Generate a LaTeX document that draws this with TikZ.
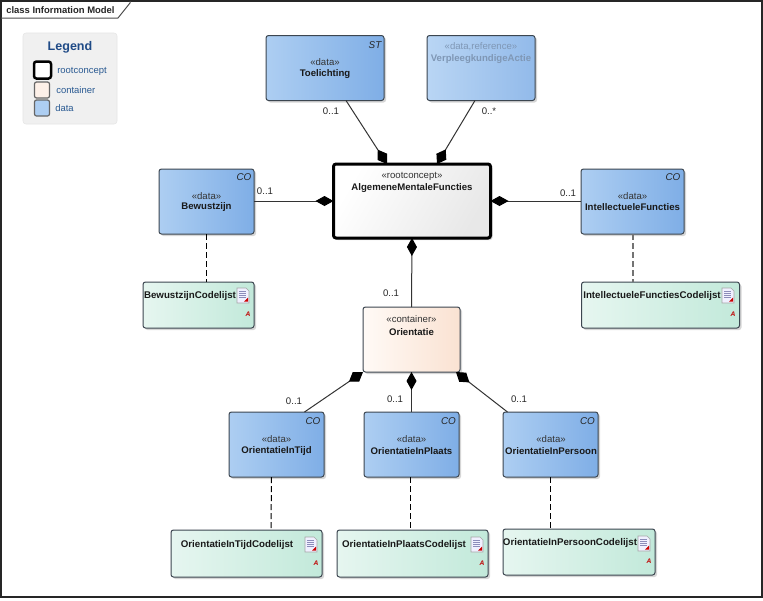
\documentclass[tikz,border=0pt]{standalone}
\usepackage{fontspec}
\setmainfont{Liberation Sans}
\usetikzlibrary{arrows.meta,shadows,calc}
\definecolor{dataL}{HTML}{ADCEF2}
\definecolor{dataR}{HTML}{7FAEE6}
\definecolor{contL}{HTML}{FFFAF6}
\definecolor{contR}{HTML}{FAE2D2}
\definecolor{codeL}{HTML}{E6F6F0}
\definecolor{codeR}{HTML}{C2E9DA}
\definecolor{edgeC}{HTML}{3C4650}
\definecolor{legendBlue}{HTML}{1F4A86}
\definecolor{legendTxt}{HTML}{2A5A92}
\definecolor{refTxt}{HTML}{7F97B5}
\def\px{0.75pt}
\tikzset{
  fnt/.style={font=\fontsize{7.2}{8}\selectfont},
  elem/.style={draw=edgeC,line width=1*\px,rounded corners=2.5*\px,inner sep=0pt,outer sep=0pt,
     drop shadow={shadow xshift=2*\px,shadow yshift=-2*\px,opacity=.16,fill=black}},
  sz/.style 2 args={minimum width=#1*\px,minimum height=#2*\px},
  datab/.style={elem,left color=dataL,right color=dataR},
  contb/.style={elem,left color=contL,right color=contR},
  codeb/.style={elem,left color=codeL,right color=codeR},
  rootb/.style={elem,draw=black,line width=3*\px,left color=white,right color=black!9,shading angle=60},
  stereo/.style={fnt,text=black!80,inner sep=0pt},
  ename/.style={font=\fontsize{7.2}{8}\selectfont\bfseries,text=black!90,inner sep=0pt},
  cname/.style={font=\fontsize{7.3}{8}\selectfont\bfseries,text=black!90,inner sep=0pt},
  corner/.style={font=\fontsize{7.4}{8}\selectfont\itshape,text=black!85,inner sep=0pt},
  mult/.style={fnt,text=black!85,inner sep=0pt},
  comp/.style={draw=black!80,line width=1*\px,-{Diamond[length=18*\px,width=10*\px,fill=black,color=black]}},
  compd/.style={draw=black!80,line width=1*\px,-{Diamond[length=17*\px,width=11.5*\px,fill=black,color=black]}},
  dep/.style={draw=black,line width=1*\px,dash pattern=on 6*\px off 3*\px},
  legtxt/.style={font=\fontsize{7.1}{8}\selectfont,text=legendTxt,inner sep=0pt,anchor=west},
  swatch/.style={draw=black!60,line width=1.2*\px,rounded corners=2*\px,inner sep=0pt,sz={15}{16}},
}
\newcommand{\docicon}[2]{%
  \fill[white,draw=black!35,line width=.6*\px,fill=blue!6] (#1,#2) -- ++(9,0) -- ++(3,3) -- ++(0,12) -- ++(-12,0) -- cycle;
  \foreach \dy in {3,5,7,9}{\draw[blue!40!black!45,line width=.7*\px] ($(#1,#2)+(2,\dy)$) -- ++(7,0);}
  \fill[red!80!black] ($(#1,#2)+(7,13.5)$) -- ++(4,-4) -- ++(0,4) -- cycle;
}
\newcommand{\redA}[2]{\node[font=\fontsize{5}{6}\selectfont\itshape\bfseries,text=red!75!black,inner sep=0pt] at (#1,#2) {A};}
\begin{document}
\begin{tikzpicture}[x=0.75pt,y=-0.75pt]
\useasboundingbox (0,0) rectangle (763,600);
\fill[white] (0,0) rectangle (763,600);
\draw[black!85,line width=1.2*\px] (1,1) rectangle (762,597);
% frame tab
\node[font=\fontsize{7.1}{8}\selectfont\bfseries,text=black!85,inner sep=0pt,anchor=west] (tab) at (6,10) {class Information Model};
\draw[black!70,line width=1*\px] (1,18) -- (118,18) -- (130,3) -- (130,1);
% legend
\node[draw=black!10,fill=black!6,rounded corners=3*\px,inner sep=0pt,sz={94}{91}] (legend) at (70,78.5) {};
\node[font=\fontsize{9.4}{10}\selectfont\bfseries,text=legendBlue,inner sep=0pt] (legt) at (70,47) {Legend};
\node[swatch,draw=black,line width=2.5*\px,fill=white,sz={17}{17},rounded corners=2.5*\px] (sw1) at (42.5,70) {};
\node[swatch,fill=contL!60!contR] (sw2) at (42,90) {};
\node[swatch,fill=dataL] (sw3) at (42,108) {};
\node[legtxt] (l1) at (57,71) {rootconcept};
\node[legtxt] (l2) at (56,90) {container};
\node[legtxt] (l3) at (55,108) {data};
% main elements
\node[datab,sz={118}{65}] (toel) at (325,68) {};
\node[datab,sz={108}{65},left color=dataL!85!white,right color=dataR!85!white] (verp) at (481,68) {};
\node[rootb,sz={157}{74}] (root) at (412,201) {};
\node[datab,sz={95}{65}] (bew) at (206.5,201.5) {};
\node[datab,sz={103}{65}] (intel) at (632.5,201.5) {};
\node[codeb,sz={111}{46}] (bewc) at (198.5,305) {};
\node[codeb,sz={158}{46}] (intelc) at (660.5,305) {};
\node[contb,sz={97}{65}] (ori) at (411.5,339.5) {};
\node[datab,sz={95}{65}] (tijd) at (276.5,444.5) {};
\node[datab,sz={95}{65}] (plaats) at (411.5,444.5) {};
\node[datab,sz={95}{65}] (pers) at (550.5,444.5) {};
\node[codeb,sz={151}{47}] (tijdc) at (246.5,553.5) {};
\node[codeb,sz={151}{47}] (plaatsc) at (412.5,553.5) {};
\node[codeb,sz={152}{46}] (persc) at (579,552) {};
% texts
\node[stereo] (s1) at (325,62) {«data»};\node[ename] (n1) at (325,74) {Toelichting};\node[corner] (c1) at (375,45) {ST};
\node[stereo,text=refTxt] (s2) at (481,47) {«data,reference»};\node[ename,text=refTxt] (n2) at (481,59.5) {VerpleegkundigeActie};
\node[stereo] (s3) at (412,176) {«rootconcept»};\node[ename] (n3) at (412,188) {AlgemeneMentaleFuncties};
\node[stereo] (s4) at (206.5,196) {«data»};\node[ename] (n4) at (206.5,207.5) {Bewustzijn};\node[corner] (c4) at (244,177.5) {CO};
\node[stereo] (s5) at (632.5,196) {«data»};\node[ename] (n5) at (632.5,207.5) {IntellectueleFuncties};\node[corner] (c5) at (673,177.5) {CO};
\node[stereo] (s6) at (411.5,319.5) {«container»};\node[ename] (n6) at (411.5,332) {Orientatie};
\node[stereo] (s7) at (276.5,439) {«data»};\node[ename] (n7) at (276.5,451) {OrientatieInTijd};\node[corner] (c7) at (313,421) {CO};
\node[stereo] (s8) at (411.5,439) {«data»};\node[ename] (n8) at (411.5,451) {OrientatieInPlaats};\node[corner] (c8) at (448.5,421) {CO};
\node[stereo] (s9) at (551,439) {«data»};\node[ename] (n9) at (551,451) {OrientatieInPersoon};\node[corner] (c9) at (587.5,421) {CO};
\node[cname] (n10) at (190,296) {BewustzijnCodelijst};
\node[cname] (n11) at (652,296) {IntellectueleFunctiesCodelijst};
\node[cname] (n12) at (237,545) {OrientatieInTijdCodelijst};
\node[cname] (n13) at (404,545) {OrientatieInPlaatsCodelijst};
\node[cname] (n14) at (570,543) {OrientatieInPersoonCodelijst};
% icons
\docicon{237}{288}\redA{248}{314}
\docicon{722}{288}\redA{733}{314}
\docicon{305}{537}\redA{316}{563}
\docicon{471}{537}\redA{482}{563}
\docicon{638}{536}\redA{649}{561}
% composition connectors
\draw[compd] ([xshift=21*\px]toel.south) -- ([xshift=-25*\px]root.north);
\draw[compd] ([xshift=-6*\px]verp.south) -- ([xshift=25*\px]root.north);
\draw[comp] (bew.east |- root.west) -- (root.west);
\draw[comp] (intel.west |- root.east) -- (root.east);
\draw[comp] (ori.north) -- (root.south);
\draw[compd] ([xshift=28*\px]tijd.north) -- (ori.south west);
\draw[comp] (plaats.north) -- (ori.south);
\draw[compd] ([xshift=-43*\px]pers.north) -- ([xshift=-4*\px]ori.south east);
% dependency connectors
\draw[dep] (bew.south) -- (bew.south |- bewc.north);
\draw[dep,draw=black!55,line width=2*\px] (intel.south) -- (intel.south |- intelc.north);
\draw[dep] ([xshift=-5*\px]tijd.south) -- ([xshift=24.5*\px]tijdc.north);
\draw[dep] ([xshift=-1.5*\px]plaats.south) -- ([xshift=-2.5*\px]plaatsc.north);
\draw[dep] (pers.south) -- (pers.south |- persc.north);
% multiplicities
\node[mult] (m1) at (331,111) {0..1};
\node[mult] (m2) at (489,111) {0..*};
\node[mult] (m3) at (265,191.5) {0..1};
\node[mult] (m4) at (568,193) {0..1};
\node[mult] (m5) at (391,293) {0..1};
\node[mult] (m6) at (294,401) {0..1};
\node[mult] (m7) at (395,399) {0..1};
\node[mult] (m8) at (519,399) {0..1};
\end{tikzpicture}
\end{document}
